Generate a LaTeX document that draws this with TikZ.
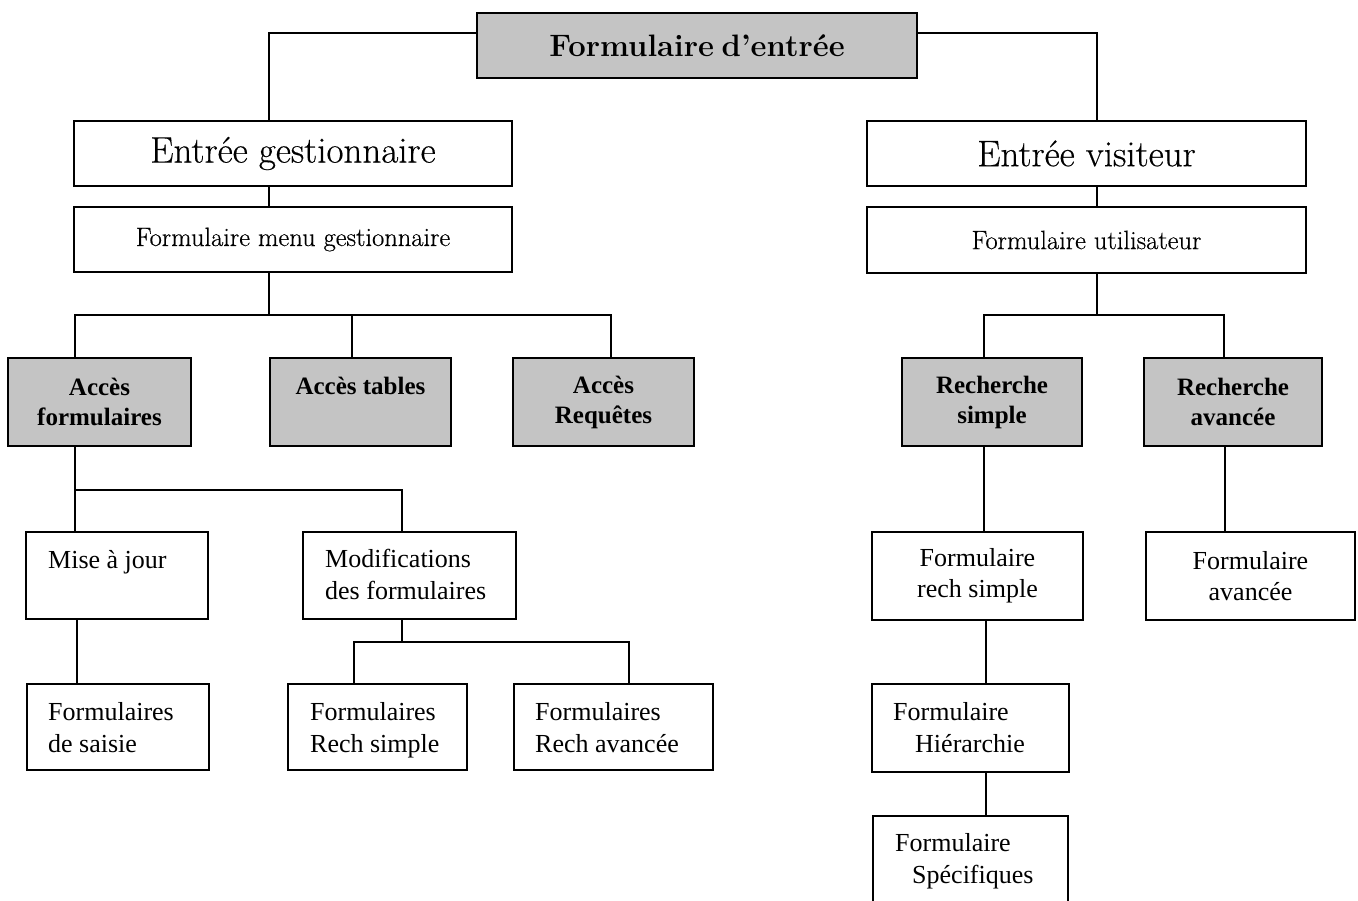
\documentclass[tikz,border=0pt]{standalone}
\usepackage{fontspec}
\newfontfamily\tnr{Liberation Serif}
\newfontfamily\sch[FakeBold=0.4]{Latin Modern Roman}
\definecolor{shade}{RGB}{196,196,196}
\begin{document}
\begin{tikzpicture}[x=1pt,y=-1pt,
  box/.style={draw=black, line width=2pt, inner sep=0pt, anchor=center},
  graybox/.style={box, fill=shade},
  conn/.style={line width=2pt},
  head/.style={font=\sch\fontsize{37}{42}\selectfont},
  sub/.style={font=\sch\fontsize{26.5}{30}\selectfont},
  gtxt/.style={font=\tnr\bfseries\fontsize{25}{30}\selectfont, align=center},
  ntxt/.style={font=\tnr\fontsize{26}{31}\selectfont, align=center},
  ltxt/.style={font=\tnr\fontsize{26}{32}\selectfont, align=left, anchor=base west, inner sep=0pt},
]
\useasboundingbox (0,0) rectangle (1358,900);
\clip (0,0) rectangle (1358,900);

% level 0
\node[graybox, minimum width=440pt, minimum height=65pt, font=\bfseries\fontsize{31}{36}\selectfont] (top) at (697,45.5) {Formulaire\kern-4pt\ d'entrée};

% level 1
\node[box, minimum width=438pt, minimum height=65pt, head] (eg) at (293,153.5) {Entrée gestionnaire};
\node[box, minimum width=438pt, minimum height=65pt, sub] (mg) at (293,239.5) {Formulaire menu gestionnaire};
\node[box, minimum width=439pt, minimum height=65pt, head] (ev) at (1086.5,153.5) {Entrée visiteur};
\node[box, minimum width=439pt, minimum height=66pt, sub] (fu) at (1086.5,240) {Formulaire utilisateur};

% level 2 (gray)
\node[graybox, minimum width=183pt, minimum height=88pt, gtxt] (af) at (99.5,402) {Accès\\formulaires};
\node[graybox, minimum width=181pt, minimum height=88pt, label={[gtxt, yshift=16pt]center:Accès tables}] (at) at (360.5,402) {};
\node[graybox, minimum width=181pt, minimum height=88pt, gtxt] (ar) at (603.5,402) {Accès\\Requêtes};
\node[graybox, minimum width=180pt, minimum height=88pt, gtxt] (rs) at (992,402) {Recherche\\simple};
\node[graybox, minimum width=178pt, minimum height=88pt, gtxt] (ra) at (1233,402) {Recherche\\avancée};

% level 3
\node[box, minimum width=182pt, minimum height=87pt] (mj) at (117,575.5) {};
\node[ltxt] (mjt) at (48,568) {Mise à jour};
\node[box, minimum width=213pt, minimum height=87pt] (mf) at (409.5,575.5) {};
\node[ltxt] (mft) at (325,599) {Modifications\\des formulaires};
\node[box, minimum width=211pt, minimum height=88pt, ntxt] (frs2) at (977.5,576) {Formulaire\\rech simple};
\node[box, minimum width=209pt, minimum height=88pt, ntxt] (fa) at (1250.5,576) {Formulaire\\avancée};

% level 4
\node[box, minimum width=182pt, minimum height=86pt] (fs) at (118,727) {};
\node[ltxt] (fst) at (48,752) {Formulaires\\de saisie};
\node[box, minimum width=179pt, minimum height=86pt] (frs) at (377.5,727) {};
\node[ltxt] (frst) at (310,752) {Formulaires\\Rech simple};
\node[box, minimum width=199pt, minimum height=86pt] (fra) at (613.5,727) {};
\node[ltxt] (frat) at (535,752) {Formulaires\\Rech avancée};
\node[box, minimum width=197pt, minimum height=88pt] (fh) at (970.5,728) {};
\node[ltxt] (fht) at (893,752) {Formulaire\\\hspace*{22pt}Hiérarchie};
\node[box, minimum width=195pt, minimum height=88pt] (fsp) at (970.5,860) {};
\node[ltxt] (fspt) at (895,883) {Formulaire\\\hspace*{17pt}Spécifiques};

% connection points
\coordinate (egn) at ([xshift=-24pt]eg.north);
\coordinate (egs) at ([xshift=-24pt]eg.south);
\coordinate (evn) at ([xshift=10.5pt]ev.north);
\coordinate (evs) at ([xshift=10.5pt]ev.south);
\coordinate (mgs) at ([xshift=-24pt]mg.south);
\coordinate (fus) at ([xshift=10.5pt]fu.south);
\coordinate (afn) at ([xshift=-24.5pt]af.north);
\coordinate (atn) at ([xshift=-8.5pt]at.north);
\coordinate (arn) at ([xshift=7.5pt]ar.north);
\coordinate (rsn) at ([xshift=-8pt]rs.north);
\coordinate (ran) at ([xshift=-9pt]ra.north);
\coordinate (afs) at ([xshift=-24.5pt]af.south);
\coordinate (mfn) at ([xshift=-7.5pt]mf.north);
\coordinate (mjs) at ([xshift=-40pt]mj.south);
\coordinate (mfs) at ([xshift=-7.5pt]mf.south);
\coordinate (frsn) at ([xshift=-23.5pt]frs.north);
\coordinate (fran) at ([xshift=15.5pt]fra.north);
\coordinate (rss) at ([xshift=-8pt]rs.south);
\coordinate (ras) at ([xshift=-8pt]ra.south);
\coordinate (frs2s) at ([xshift=8.5pt]frs2.south);
\coordinate (fhs) at ([xshift=15.5pt]fh.south);

% connectors
\draw[conn] ([yshift=12.5pt]top.west) -| (egn);
\draw[conn] ([yshift=12.5pt]top.east) -| (evn);
\draw[conn] (egs) -- (egs |- mg.north);
\draw[conn] (evs) -- (evs |- fu.north);

\draw[conn] (mgs) -- ++(0,42) coordinate (b1);
\draw[conn] (afn) |- (b1) -| (arn);
\draw[conn] (atn) -- (atn |- b1);

\draw[conn] (fus) -- ++(0,41) coordinate (b2);
\draw[conn] (rsn) |- (b2) -| (ran);

\draw[conn] (afs) -- (afs |- mj.north);
\draw[conn] (afs) ++(0,43) coordinate (b3) -| (mfn);
\draw[conn] (mjs) -- (mjs |- fs.north);

\draw[conn] (mfs) -- ++(0,22) coordinate (b4);
\draw[conn] (frsn) |- (b4) -| (fran);

\draw[conn] (rss) -- (rss |- frs2.north);
\draw[conn] (ras) -- (ras |- fa.north);
\draw[conn] (frs2s) -- (frs2s |- fh.north);
\draw[conn] (fhs) -- (fhs |- fsp.north);
\end{tikzpicture}
\end{document}
